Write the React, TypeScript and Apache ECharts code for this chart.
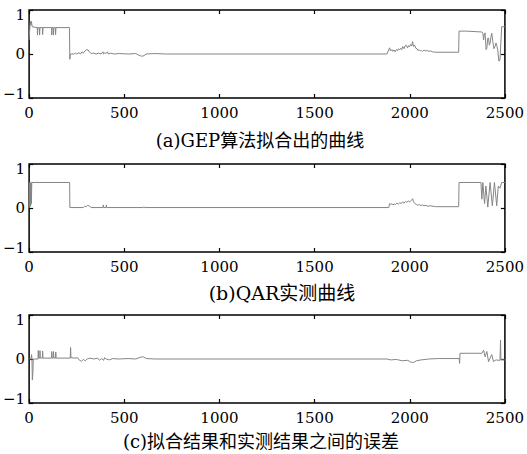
import React, { useEffect, useRef } from "react";
import * as echarts from "echarts";

// ---- data ----
const xMin = 0;
const xMax = 2500;
const xInterval = 500;
const yMin = -1;
const yMax = 1;

const captions = [
  "(a)GEP算法拟合出的曲线",
  "(b)QAR实测曲线",
  "(c)拟合结果和实测结果之间的误差",
];

// (a) curve fitted by the GEP algorithm: [sample index, value]
const gepCurve: [number, number][] = [
  [0, 0.32], [3, 0.55], [6, 0.75], [9, 0.66], [12, 0.74], [16, 0.62],
  [43, 0.6], [44, 0.43], [46, 0.6], [54, 0.6], [55, 0.43], [57, 0.6],
  [70, 0.6], [71, 0.44], [73, 0.6], [118, 0.6], [119, 0.43], [121, 0.6],
  [127, 0.6], [128, 0.43], [130, 0.6], [138, 0.6], [139, 0.44], [141, 0.6],
  [212, 0.6], [214, -0.12], [217, 0.0], [235, 0.0], [245, 0.02], [250, 0.0],
  [262, 0.03], [270, 0.0], [278, 0.05], [285, 0.02], [293, 0.07], [302, 0.1],
  [310, 0.09], [318, 0.04], [328, 0.01], [340, 0.02], [352, 0.0], [365, 0.02],
  [378, 0.0], [388, 0.05], [391, 0.0], [398, 0.03], [404, 0.01], [412, 0.05],
  [416, 0.0], [430, 0.02], [445, 0.0], [470, 0.01], [520, 0.0], [560, 0.01],
  [578, -0.03], [590, -0.05], [603, -0.04], [615, 0.0], [660, 0.01], [720, 0.0],
  [1880, 0.0], [1894, 0.14], [1900, 0.07], [1906, 0.1], [1911, 0.06], [1918, 0.09],
  [1923, 0.05], [1929, 0.1], [1936, 0.08], [1941, 0.12], [1946, 0.09], [1953, 0.13],
  [1958, 0.1], [1963, 0.17], [1970, 0.12], [1975, 0.18], [1981, 0.2], [1988, 0.14],
  [1993, 0.19], [1998, 0.16], [2005, 0.22], [2010, 0.18], [2015, 0.28], [2020, 0.17],
  [2026, 0.2], [2032, 0.13], [2038, 0.12], [2043, 0.08], [2049, 0.1], [2055, 0.07],
  [2061, 0.08], [2067, 0.06], [2075, 0.09], [2084, 0.07], [2092, 0.08], [2101, 0.06],
  [2110, 0.07], [2119, 0.05], [2136, 0.04], [2257, 0.04], [2259, 0.52], [2300, 0.52],
  [2379, 0.5], [2384, 0.48], [2388, 0.32], [2392, 0.45], [2396, 0.48], [2401, 0.1],
  [2405, 0.13], [2410, 0.36], [2414, 0.36], [2418, 0.2], [2422, 0.24], [2427, 0.4],
  [2431, 0.47], [2436, 0.3], [2442, 0.12], [2448, 0.17], [2453, 0.25], [2457, 0.2],
  [2462, 0.1], [2468, -0.16], [2474, -0.14], [2483, 0.62], [2500, 0.62],
];

// (b) QAR measured curve
const qarCurve: [number, number][] = [
  [0, 0.0], [2, 0.58], [4, 0.02], [6, 0.58], [8, 0.05], [10, 0.58], [12, 0.1],
  [14, 0.58], [213, 0.58], [214, 0.01], [285, 0.01], [292, 0.04], [300, 0.03],
  [308, 0.06], [315, 0.05], [326, 0.01], [388, 0.01], [390, 0.07], [392, 0.01],
  [404, 0.01], [406, 0.07], [408, 0.01], [600, 0.01], [603, 0.03], [606, 0.01],
  [1890, 0.01], [1894, 0.1], [1900, 0.08], [1906, 0.1], [1912, 0.07], [1918, 0.09],
  [1925, 0.08], [1932, 0.11], [1940, 0.09], [1948, 0.12], [1955, 0.1], [1963, 0.14],
  [1970, 0.11], [1978, 0.15], [1985, 0.13], [1992, 0.16], [2000, 0.14], [2008, 0.17],
  [2015, 0.21], [2020, 0.14], [2027, 0.1], [2035, 0.08], [2043, 0.06], [2050, 0.08],
  [2058, 0.05], [2066, 0.07], [2075, 0.05], [2085, 0.06], [2095, 0.04], [2110, 0.05],
  [2136, 0.03], [2257, 0.03], [2259, 0.58], [2374, 0.58], [2379, 0.2], [2384, 0.58],
  [2393, 0.1], [2400, 0.5], [2410, 0.02], [2422, 0.58], [2434, 0.05], [2445, 0.58],
  [2457, 0.05], [2465, 0.5], [2474, 0.45], [2483, 0.58], [2500, 0.58],
];

// (c) error between fitted and measured
const errorCurve: [number, number][] = [
  [0, 0.0], [10, 0.0], [13, 0.1], [15, 0.0], [17, -0.48], [20, -0.3], [22, 0.0],
  [47, 0.0], [48, 0.19], [50, 0.02], [56, 0.02], [57, 0.19], [59, 0.02], [70, 0.02],
  [71, 0.18], [73, 0.02], [118, 0.02], [119, 0.17], [121, 0.02], [127, 0.02],
  [128, 0.17], [130, 0.02], [139, 0.02], [140, 0.16], [142, 0.02], [216, 0.02],
  [218, 0.26], [220, 0.03], [240, 0.02], [255, 0.03], [265, -0.03], [275, -0.05],
  [285, -0.01], [295, -0.04], [305, 0.0], [320, 0.02], [340, 0.0], [360, 0.02],
  [370, -0.03], [380, 0.01], [392, -0.03], [396, 0.03], [405, 0.0], [422, -0.02],
  [440, 0.01], [470, 0.0], [520, 0.01], [560, 0.0], [585, 0.04], [600, 0.05],
  [615, 0.01], [660, 0.0], [1880, 0.0], [1900, -0.02], [1930, -0.01], [1960, -0.04],
  [1990, -0.03], [2005, -0.07], [2020, -0.08], [2035, -0.04], [2060, -0.02],
  [2100, 0.0], [2150, 0.01], [2260, 0.01], [2262, -0.1], [2264, 0.13], [2379, 0.13],
  [2388, 0.2], [2396, 0.05], [2405, 0.17], [2414, -0.06], [2422, 0.02], [2431, 0.1],
  [2440, -0.06], [2448, -0.03], [2457, -0.02], [2465, -0.03], [2474, -0.03],
  [2477, 0.43], [2479, -0.02], [2500, -0.02],
];

const panels = [gepCurve, qarCurve, errorCurve];

// ---- layout ----
const gridTops = [10, 164, 315];
const gridHeight = 88;
const gridLeft = 29;
const gridWidth = 481;
const captionPos = [
  [260, 140],
  [282, 293],
  [261, 441],
];

const tickFont = "DejaVu Serif";

const tickStyle = { show: true, inside: true, length: 4, lineStyle: { color: "#000", width: 1.2 } };

export default function App() {
  const ref = useRef<HTMLDivElement>(null);

  useEffect(() => {
    if (!ref.current) return;
    const chart = echarts.init(ref.current, undefined, { renderer: "svg" });

    const grids = gridTops.map((top) => ({
      left: gridLeft,
      top,
      width: gridWidth,
      height: gridHeight,
      show: true,
      borderColor: "#000",
      borderWidth: 1.5,
      backgroundColor: "#fff",
      containLabel: false,
    }));

    const xAxes: any[] = [];
    const yAxes: any[] = [];
    panels.forEach((_, i) => {
      xAxes.push({
        type: "value",
        gridIndex: i,
        min: xMin,
        max: xMax,
        interval: xInterval,
        position: "bottom",
        axisLine: { show: false, onZero: false },
        axisTick: tickStyle,
        splitLine: { show: false },
        axisLabel: {
          show: true,
          margin: 7,
          fontFamily: tickFont,
          fontSize: 15,
          color: "#000",
          formatter: (v: number) => String(v),
        },
      });
      xAxes.push({
        type: "value",
        gridIndex: i,
        min: xMin,
        max: xMax,
        interval: xInterval,
        position: "top",
        axisLine: { show: false, onZero: false },
        axisTick: tickStyle,
        splitLine: { show: false },
        axisLabel: { show: false },
      });
      yAxes.push({
        type: "value",
        gridIndex: i,
        min: yMin,
        max: yMax,
        interval: 1,
        position: "left",
        axisLine: { show: false, onZero: false },
        axisTick: tickStyle,
        splitLine: { show: false },
        axisLabel: {
          show: true,
          margin: 4,
          fontFamily: tickFont,
          fontSize: 15,
          color: "#000",
          formatter: (v: number) =>
            v === 1 ? "{t|1}" : v === -1 ? "{b|−1}" : "{m|0}",
          rich: {
            t: { fontFamily: tickFont, fontSize: 15, color: "#000", padding: [10, 0, 0, 0] },
            b: { fontFamily: tickFont, fontSize: 15, color: "#000", padding: [0, 0, 8, 0] },
            m: { fontFamily: tickFont, fontSize: 15, color: "#000" },
          },
        },
      });
      yAxes.push({
        type: "value",
        gridIndex: i,
        min: yMin,
        max: yMax,
        interval: 1,
        position: "right",
        axisLine: { show: false, onZero: false },
        axisTick: tickStyle,
        splitLine: { show: false },
        axisLabel: { show: false },
      });
    });

    const series = panels.map((data, i) => ({
      type: "line",
      xAxisIndex: i * 2,
      yAxisIndex: i * 2,
      data,
      showSymbol: false,
      symbol: "none",
      lineStyle: { color: "#858585", width: 1 },
      silent: true,
      z: 2,
    }));

    const graphic = captions.map((text, i) => ({
      type: "text",
      x: captionPos[i][0],
      y: captionPos[i][1],
      style: {
        text,
        fontSize: i === 1 ? 19 : 18,
        fontFamily: "'DejaVu Serif', 'Noto Sans CJK SC'",
        fill: "#000",
        align: "center",
        verticalAlign: "middle",
      },
    }));

    chart.setOption({
      animation: false,
      backgroundColor: "#fff",
      grid: grids,
      xAxis: xAxes,
      yAxis: yAxes,
      series,
      graphic,
    });

    return () => chart.dispose();
  }, []);

  return (
    <div
      ref={ref}
      style={{ position: "fixed", left: 0, top: 0, width: 527, height: 454, background: "#fff" }}
    />
  );
}
